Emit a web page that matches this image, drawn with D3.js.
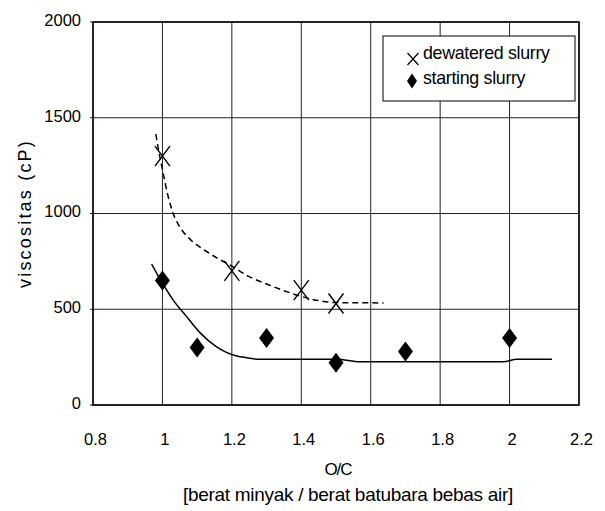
<!DOCTYPE html>
<html>
<head>
<meta charset="utf-8">
<script src="https://cdn.jsdelivr.net/npm/d3@7"></script>
<style>
  body { margin: 0; background: #fff; }
  text { font-family: "Liberation Sans", Arial, sans-serif; fill: #000; }
</style>
</head>
<body>
<div id="chart"></div>
<script>
// tick values
const xTicks = [0.8, 1, 1.2, 1.4, 1.6, 1.8, 2, 2.2];
const yTicks = [0, 500, 1000, 1500, 2000];

// measured points
const dewateredX = [1.0, 1.2, 1.4, 1.5];
const dewateredY = [1300, 700, 600, 530];
const startingX = [1.0, 1.1, 1.3, 1.5, 1.7, 2.0];
const startingY = [650, 300, 350, 220, 280, 350];

// trend lines
const dewateredFitX = [0.981, 0.99, 1.0, 1.015, 1.031, 1.05, 1.08, 1.12, 1.16, 1.2, 1.25, 1.3, 1.35, 1.4, 1.45, 1.5, 1.55, 1.637];
const dewateredFitY = [1415, 1320, 1230, 1100, 1000, 930, 865, 810, 765, 725, 670, 632, 597, 567, 545, 535, 534, 533];
const startingFitX = [0.969, 1.0, 1.031, 1.07, 1.108, 1.156, 1.214, 1.243, 1.276, 1.502, 1.569, 1.982, 2.021, 2.122];
const startingFitY = [736, 636, 548, 461, 378, 304, 256, 247, 239, 239, 226, 226, 239, 239];

const legendLabels = ["dewatered slurry", "starting slurry"];

// set the dimensions and margins of the graph
const margin = { top: 22, right: 26, bottom: 106, left: 93 },
	width = 605 - margin.left - margin.right,
	height = 511 - margin.top - margin.bottom;

const svg = d3
	.select("#chart")
	.append("svg")
	.attr("width", 605)
	.attr("height", 511)
	.append("g")
	.attr("transform", `translate(${margin.left},${margin.top})`);

const x = d3.scaleLinear().domain([0.8, 2.2]).range([0, width]);
const y = d3.scaleLinear().domain([0, 2000]).range([height, 0]);

// grid
svg.append("g")
	.selectAll("line")
	.data(xTicks)
	.join("line")
	.attr("x1", (d) => x(d)).attr("x2", (d) => x(d))
	.attr("y1", 0).attr("y2", height)
	.attr("stroke", "#222").attr("stroke-width", 1);
svg.append("g")
	.selectAll("line")
	.data(yTicks)
	.join("line")
	.attr("x1", -3).attr("x2", width)
	.attr("y1", (d) => y(d)).attr("y2", (d) => y(d))
	.attr("stroke", "#222").attr("stroke-width", 1);

// frame
svg.append("rect")
	.attr("width", width).attr("height", height)
	.attr("fill", "none").attr("stroke", "#000").attr("stroke-width", 1.5);

// X axis labels
const xAxis = d3.axisBottom(x).tickValues(xTicks).tickSize(0).tickFormat(d3.format("~g"));
svg.append("g")
	.attr("transform", `translate(2, ${height})`)
	.call(xAxis)
	.call((g) => g.select(".domain").remove())
	.selectAll("text")
	.attr("y", 40)
	.attr("dy", 0)
	.style("font-size", "16.5px")
	.style("font-family", "Liberation Sans, Arial, sans-serif");

// Y axis labels
const yAxis = d3.axisLeft(y).tickValues(yTicks).tickSize(0).tickFormat(d3.format("d"));
svg.append("g")
	.call(yAxis)
	.call((g) => g.select(".domain").remove())
	.selectAll("text")
	.attr("x", -12)
	.attr("dy", "0.2em")
	.style("font-size", "16.5px")
	.style("font-family", "Liberation Sans, Arial, sans-serif");

// axis titles
svg.append("text")
	.attr("x", width / 2 + 2)
	.attr("y", 453)
	.attr("text-anchor", "middle")
	.style("font-size", "17px")
	.style("letter-spacing", "-1px")
	.text("O/C");
svg.append("text")
	.attr("x", 90)
	.attr("y", 479)
	.style("font-size", "19px")
	.style("letter-spacing", "-0.3px")
	.text("[berat minyak / berat batubara bebas air]");
svg.append("text")
	.attr("transform", `translate(${-62}, ${y(1000)}) rotate(-90)`)
	.attr("text-anchor", "middle")
	.style("font-size", "18px")
	.style("letter-spacing", "2.2px")
	.text("viscositas (cP)");

// trend lines
const line = d3.line().curve(d3.curveMonotoneX).x((d) => x(d[0])).y((d) => y(d[1]));
svg.append("path")
	.datum(d3.zip(dewateredFitX, dewateredFitY))
	.attr("fill", "none").attr("stroke", "#000").attr("stroke-width", 1.5)
	.attr("stroke-dasharray", "6,4")
	.attr("d", line);
svg.append("path")
	.datum(d3.zip(startingFitX, startingFitY))
	.attr("fill", "none").attr("stroke", "#000").attr("stroke-width", 1.5)
	.attr("d", line);

// markers
const cross = (w, h) => `M${-w / 2},${-h / 2}L${w / 2},${h / 2}M${-w / 2},${h / 2}L${w / 2},${-h / 2}`;
const diamond = (w, h) => `M0,${-h / 2}L${w / 2},0L0,${h / 2}L${-w / 2},0Z`;

svg.append("g")
	.selectAll("path")
	.data(d3.zip(dewateredX, dewateredY))
	.join("path")
	.attr("transform", (d) => `translate(${x(d[0])},${y(d[1])})`)
	.attr("d", cross(15, 20))
	.attr("fill", "none").attr("stroke", "#000").attr("stroke-width", 1.4);

svg.append("g")
	.selectAll("path")
	.data(d3.zip(startingX, startingY))
	.join("path")
	.attr("transform", (d) => `translate(${x(d[0])},${y(d[1])})`)
	.attr("d", diamond(15, 20))
	.attr("fill", "#000");

// legend
const legend = svg.append("g").attr("transform", `translate(${383 - margin.left},${36 - margin.top})`);
legend.append("rect")
	.attr("width", 192).attr("height", 65)
	.attr("fill", "#fff").attr("stroke", "#000").attr("stroke-width", 1);
legend.append("path")
	.attr("transform", "translate(30,23)")
	.attr("d", cross(11, 12))
	.attr("fill", "none").attr("stroke", "#000").attr("stroke-width", 1.2);
legend.append("path")
	.attr("transform", "translate(29,45)")
	.attr("d", diamond(10, 15))
	.attr("fill", "#000");
legend.selectAll("text")
	.data(legendLabels)
	.join("text")
	.attr("x", 40)
	.attr("y", (d, i) => 23 + i * 25)
	.style("font-size", "17.8px")
	.style("letter-spacing", "-0.3px")
	.text((d) => d);
</script>
</body>
</html>
